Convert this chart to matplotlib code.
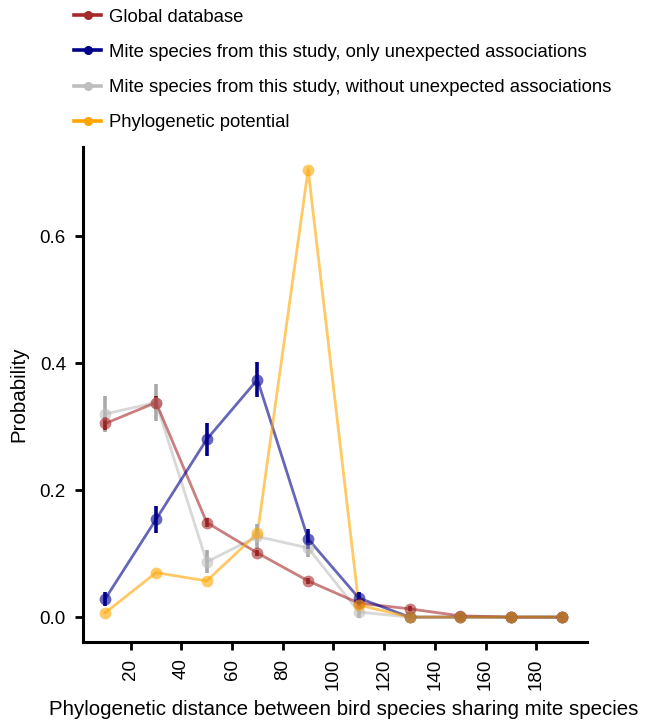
import numpy as np
import matplotlib
matplotlib.use("Agg")
import matplotlib.pyplot as plt
from matplotlib.lines import Line2D

plt.rcParams['font.family'] = ['Liberation Sans', 'DejaVu Sans']

distance = [10, 30, 50, 70, 90, 110, 130, 150, 170, 190]

global_db = [0.305, 0.338, 0.149, 0.101, 0.057, 0.022, 0.013, 0.002, 0.0, 0.0]
global_err = [0.010, 0.010, 0.007, 0.005, 0.005, 0.004, 0.004, 0.003, 0.002, 0.001]

only_unexp = [0.029, 0.154, 0.280, 0.374, 0.123, 0.030, 0.0, 0.0, 0.0, 0.0]
only_err = [0.011, 0.021, 0.026, 0.028, 0.016, 0.010, 0.0, 0.0, 0.0, 0.0]

without_unexp = [0.320, 0.338, 0.087, 0.127, 0.109, 0.008, 0.0, 0.0, 0.0, 0.0]
without_err = [0.028, 0.029, 0.018, 0.020, 0.015, 0.009, 0.0, 0.0, 0.0, 0.0]

phylo_pot = [0.007, 0.070, 0.057, 0.132, 0.705, 0.019, 0.0, 0.0, 0.0, 0.0]

x_ticks = [20, 40, 60, 80, 100, 120, 140, 160, 180]
y_ticks = [0.0, 0.2, 0.4, 0.6]

series = [
    ("Mite species from this study, without unexpected associations",
     without_unexp, without_err, "#BEBEBE", "#A9A9A9"),
    ("Global database", global_db, global_err, "#A52A2A", "#8B1A1A"),
    ("Mite species from this study, only unexpected associations",
     only_unexp, only_err, "#00008B", "#00008B"),
    ("Phylogenetic potential", phylo_pot, None, "#FFA500", "#FFA500"),
]
legend_order = [
    "Global database",
    "Mite species from this study, only unexpected associations",
    "Mite species from this study, without unexpected associations",
    "Phylogenetic potential",
]

fig = plt.figure(figsize=(6.45, 7.22), dpi=100)
ax = fig.add_axes([0.128, 0.111, 0.782, 0.685])

handles = {}
for name, vals, err, col, ecol in series:
    x = np.array(distance)
    y = np.array(vals)
    ax.plot(x, y, color=col, lw=2.0, alpha=0.6, zorder=2)
    if err is not None:
        e = np.array(err)
        ax.vlines(x, y - e, y + e, color=ecol, lw=2.6, zorder=3)
    ax.plot(x, y, 'o', color=col, ms=8.5, alpha=0.6, mec='none', zorder=4)
    handles[name] = Line2D([0], [0], color=col, lw=2.6, marker='o', ms=6.5,
                           mfc=col, mec='none')

ax.set_xlim(1, 200)
ax.set_ylim(-0.039, 0.74)
ax.set_xticks(x_ticks)
ax.set_xticklabels([str(t) for t in x_ticks], rotation=90, fontsize=13.5)
ax.set_yticks(y_ticks)
ax.set_yticklabels([f"{t:.1f}" for t in y_ticks], fontsize=13.5)
ax.tick_params(width=2, length=6, pad=6)

for side in ['top', 'right']:
    ax.spines[side].set_visible(False)
for side in ['left', 'bottom']:
    ax.spines[side].set_linewidth(2.2)

ax.set_xlabel("Phylogenetic distance between bird species sharing mite species",
              fontsize=14.8)
ax.xaxis.set_label_coords(0.518, -0.118)
ax.set_ylabel("Probability", fontsize=14.8, labelpad=8)

leg = fig.legend([handles[n] for n in legend_order], legend_order,
                 loc='upper left', bbox_to_anchor=(0.095, 1.006),
                 frameon=False, fontsize=13.3, handlelength=1.46,
                 handletextpad=0.4, labelspacing=0.99, borderpad=0.2)
for h in leg.legend_handles:
    h.set_alpha(1)

fig.savefig("out.png", dpi=100)
